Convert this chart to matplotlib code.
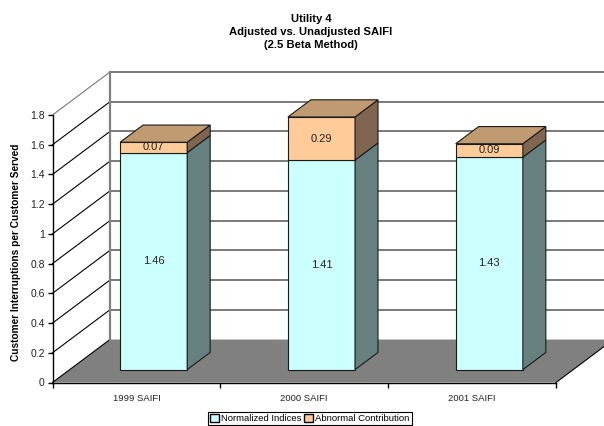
#!/usr/bin/env python3
""" Stacked 3D-look bars of adjusted vs. unadjusted SAIFI.
"""
import matplotlib
matplotlib.use('Agg')
import matplotlib.pyplot as plt
from matplotlib.patches import Polygon, Patch

plt.rcParams['font.family'] = ['Liberation Sans', 'DejaVu Sans']

categories = ['1999 SAIFI', '2000 SAIFI', '2001 SAIFI']
normalized = [1.46, 1.41, 1.43]
abnormal = [0.07, 0.29, 0.09]
y_ticks = [0, 0.2, 0.4, 0.6, 0.8, 1, 1.2, 1.4, 1.6, 1.8]
y_tick_labels = ['0', '0.2', '0.4', '0.6', '0.8', '1', '1.2', '1.4', '1.6', '1.8']

# offset of the back wall from the front plane, in data units
DX = 0.342
DY = 0.289
BAR_WIDTH = 0.4
BAR_FRONT = 0.30
BAR_BACK = 0.70
EDGE = '#1a1a1a'


def to_back(x, y, depth=1.0):
    return (x + depth * DX, y + depth * DY)


def draw_block(ax, x, bottom, height, face, side, top=None):
    """Draw one bar segment: front face from ax.bar, then side and optional lid."""
    left = x - BAR_WIDTH / 2 + BAR_FRONT * DX
    right = left + BAR_WIDTH
    base = bottom + BAR_FRONT * DY
    ax.bar(left, height, BAR_WIDTH, bottom=base, align='edge', color=face,
           edgecolor=EDGE, linewidth=0.8, clip_on=False, zorder=4)
    shift = BAR_BACK - BAR_FRONT
    ax.add_patch(Polygon([(right, base), to_back(right, base, shift),
                          to_back(right, base + height, shift), (right, base + height)],
                         facecolor=side, edgecolor=EDGE, linewidth=0.8,
                         clip_on=False, zorder=4))
    if top is not None:
        lid = base + height
        ax.add_patch(Polygon([(left, lid), (right, lid), to_back(right, lid, shift),
                              to_back(left, lid, shift)],
                             facecolor=top, edgecolor=EDGE, linewidth=0.8,
                             clip_on=False, zorder=5))


fig = plt.figure(figsize=(6.04, 4.26), dpi=100)
ax = fig.add_axes([52.5 / 604, 43.5 / 426, 503.5 / 604, 267.5 / 426])
ax.set_xlim(0, 3)
ax.set_ylim(0, 1.8)

# floor
ax.add_patch(Polygon([(0, 0), (3, 0), to_back(3, 0), to_back(0, 0)],
                     facecolor='#808080', edgecolor='none', clip_on=False, zorder=1))
ax.plot([3, 3 + DX], [0, DY], color='black', linewidth=0.8, clip_on=False, zorder=2)

# side wall lines and back wall gridlines
for v in y_ticks:
    color = '#777777' if v == 1.8 else 'black'
    ax.plot([0, DX], [v, v + DY], color=color, linewidth=0.8, clip_on=False, zorder=2)
    if v > 0:
        ax.plot([DX, 3 + DX], [v + DY, v + DY], color='#555555', linewidth=1.1,
                clip_on=False, zorder=2)
ax.plot([DX, DX], [DY, 1.8 + DY], color='#808080', linewidth=1.6, clip_on=False, zorder=3)

for i in range(len(categories)):
    x = i + 0.5
    draw_block(ax, x, 0, normalized[i], '#CCFFFF', '#668080')
    draw_block(ax, x, normalized[i], abnormal[i], '#FFCC99', '#806650', top='#C09A70')
    tx = x + BAR_FRONT * DX
    ax.text(tx, BAR_FRONT * DY + normalized[i] / 2, f'{normalized[i]:.2f}',
            ha='center', va='center', fontsize=8, color='#222222', zorder=6)
    ax.text(tx, BAR_FRONT * DY + normalized[i] + abnormal[i] / 2, f'{abnormal[i]:.2f}',
            ha='center', va='center', fontsize=8, color='#222222', zorder=6)

for side in ['top', 'right']:
    ax.spines[side].set_visible(False)
for side in ['left', 'bottom']:
    ax.spines[side].set_linewidth(1)
    ax.spines[side].set_zorder(6)

ax.set_yticks(y_ticks)
ax.set_yticklabels(y_tick_labels, fontsize=7.5, color='#222222')
ax.set_xticks([0, 1, 2, 3])
ax.set_xticklabels([])
ax.set_xticks([0.5, 1.5, 2.5], minor=True)
ax.set_xticklabels(categories, minor=True, fontsize=6.8, color='#222222')
ax.tick_params(axis='x', which='minor', length=0, pad=8)
ax.tick_params(axis='both', which='major', length=3.5, width=1, pad=2)

fig.text(16.5 / 604, 1 - 252 / 426, 'Customer Interruptions per Customer Served', rotation=90,
         ha='center', va='center', fontsize=7.3, fontweight='bold')
fig.text(311 / 604, 1 - 32 / 426, 'Utility 4\nAdjusted vs. Unadjusted SAIFI\n(2.5 Beta Method)',
         ha='center', va='center', fontsize=8.1, fontweight='bold', linespacing=1.35)

handles = [Patch(facecolor='#CCFFFF', edgecolor='black', label='Normalized Indices'),
           Patch(facecolor='#FFCC99', edgecolor='black', label='Abnormal Contribution')]
leg = fig.legend(handles=handles, loc='center', bbox_to_anchor=(310 / 604, 1 - 418.5 / 426),
                 ncol=2, fontsize=6.8, frameon=True, fancybox=False, edgecolor='black',
                 framealpha=1, borderpad=0.25, handlelength=0.9, handleheight=0.9,
                 handletextpad=0.25, columnspacing=0.3, borderaxespad=0)
leg.get_frame().set_linewidth(0.8)

fig.savefig('out.png', dpi=100)
